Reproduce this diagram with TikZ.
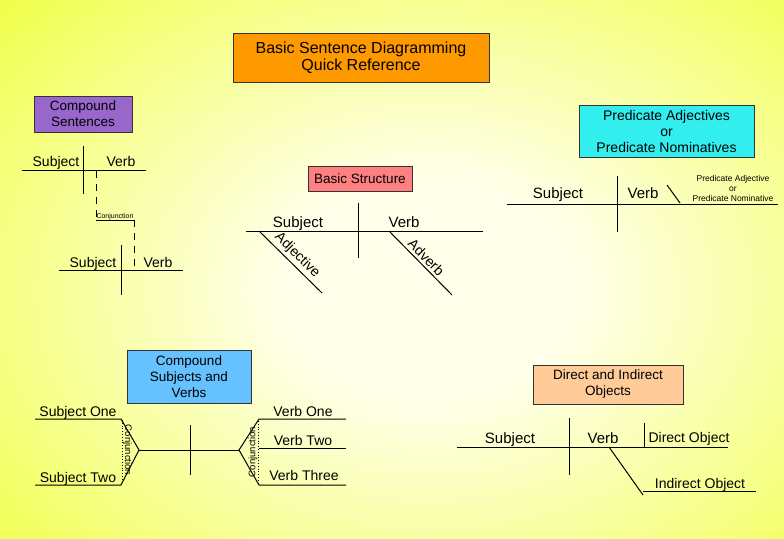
\documentclass[tikz,border=0pt]{standalone}
\usepackage{fontspec}
\setmainfont{Liberation Sans}
\usepackage{xcolor}
\usetikzlibrary{backgrounds}

\definecolor{bgedge}{RGB}{234,255,10}
\definecolor{bgcentre}{RGB}{255,255,234}
\definecolor{titleorange}{RGB}{255,153,0}
\definecolor{boxpurple}{RGB}{153,102,204}
\definecolor{boxred}{RGB}{255,128,128}
\definecolor{boxcyan}{RGB}{51,238,238}
\definecolor{boxblue}{RGB}{102,194,255}
\definecolor{boxpeach}{RGB}{255,204,153}

\pgfdeclareradialshading{sheet}{\pgfpointorigin}{color(0bp)=(bgcentre); color(8bp)=(bgcentre); color(41bp)=(bgedge); color(75bp)=(bgedge)}

\begin{document}
\begin{tikzpicture}[x=1pt,y=-1pt]
		\tikzstyle{head_box}=[draw=black!80, line width=0.8pt, align=center, inner sep=0pt, font=\fontsize{13.5}{16}\selectfont]
		\tikzstyle{word}=[inner sep=0pt, anchor=base, font=\fontsize{14}{16}\selectfont]
		\tikzstyle{word_big}=[word, font=\fontsize{15}{17}\selectfont]
		\tikzstyle{word_tiny}=[inner sep=0pt, align=center, font=\fontsize{8.5}{10}\selectfont]
		\tikzstyle{slope_word}=[sloped, above, inner sep=2.5pt, font=\fontsize{14}{16}\selectfont]
		\tikzstyle{rule}=[line width=1pt]
		\tikzstyle{dash_rule}=[rule, dash pattern=on 7pt off 6pt]
		\tikzstyle{dot_rule}=[line width=0.8pt, dotted]

	\useasboundingbox (0,0) rectangle (784,538);
	\begin{scope}[on background layer]
		\clip (0,0) rectangle (784,538);
		\shade[shading=sheet] (-30,-50) rectangle (890,630);
	\end{scope}

	% title
	\node [head_box, fill=titleorange, minimum width=256, minimum height=49, font=\fontsize{16}{17}\selectfont] (title) at (361,57.5) {Basic Sentence Diagramming\\Quick Reference};

		% compound sentences
		\begin{scope}
			\node [head_box, fill=boxpurple, minimum width=98, minimum height=36] (cs_head) at (83,114) {Compound\\Sentences};

			\coordinate (cs1_l) at (22,170);
			\coordinate (cs1_r) at (146,170);
			\coordinate (cs1_t) at (83,146);
			\coordinate (cs1_b) at (83,194);
			\draw [rule] (cs1_l) -- (cs1_r);
			\draw [rule] (cs1_t) -- (cs1_b);
			\node [word] (cs1_subj) at (56,166) {Subject};
			\node [word] (cs1_verb) at (121,166) {Verb};

			\coordinate (conj_a) at (96,171);
			\coordinate (conj_b) at (96,220);
			\coordinate (conj_c) at (134,220);
			\coordinate (conj_d) at (134,268);
			\draw [dash_rule] (conj_a) -- (conj_b);
			\draw [line width=0.8pt] (conj_b) -- (conj_c);
			\draw [dash_rule] (conj_c) -- (conj_d);
			\node [word, font=\fontsize{7}{8}\selectfont] (cs_conj) at (115,218) {Conjunction};

			\coordinate (cs2_l) at (59,270);
			\coordinate (cs2_r) at (183,270);
			\coordinate (cs2_t) at (121,245);
			\coordinate (cs2_b) at (121,295);
			\draw [rule] (cs2_l) -- (cs2_r);
			\draw [rule] (cs2_t) -- (cs2_b);
			\node [word] (cs2_subj) at (93,267) {Subject};
			\node [word] (cs2_verb) at (158,267) {Verb};
		\end{scope}

		% basic structure
		\begin{scope}
			\node [head_box, fill=boxred, minimum width=104, minimum height=25] (bs_head) at (360,178.5) {Basic Structure};

			\coordinate (bs_l) at (246,231);
			\coordinate (bs_r) at (483,231);
			\coordinate (bs_t) at (358,203);
			\coordinate (bs_b) at (358,258);
			\draw [rule] (bs_l) -- (bs_r);
			\draw [rule] (bs_t) -- (bs_b);
			\node [word_big] (bs_subj) at (298,227) {Subject};
			\node [word_big] (bs_verb) at (404,227) {Verb};

			\coordinate (adj_a) at (259,231);
			\coordinate (adj_b) at (322,293);
			\coordinate (adv_a) at (389,231);
			\coordinate (adv_b) at (452,295);
			\draw [rule] (adj_a) -- node [slope_word] (bs_adj) {Adjective} (adj_b);
			\draw [rule] (adv_a) -- node [slope_word] (bs_adv) {Adverb} (adv_b);
		\end{scope}

		% predicate adjectives / nominatives
		\begin{scope}
			\node [head_box, fill=boxcyan, minimum width=175, minimum height=52, font=\fontsize{14}{16}\selectfont] (pn_head) at (666.5,131) {Predicate Adjectives\\or\\Predicate Nominatives};

			\coordinate (pn_l) at (507,204);
			\coordinate (pn_r) at (778,204);
			\coordinate (pn_t) at (617,176);
			\coordinate (pn_b) at (617,232);
			\draw [rule] (pn_l) -- (pn_r);
			\draw [rule] (pn_t) -- (pn_b);
			\node [word_big] (pn_subj) at (558,198) {Subject};
			\node [word_big] (pn_verb) at (643,198) {Verb};

			\coordinate (pn_sa) at (667,185);
			\coordinate (pn_sb) at (680,203);
			\draw [rule] (pn_sa) -- (pn_sb);
			\node [word_tiny] (pn_comp) at (733,188) {Predicate Adjective\\or\\Predicate Nominative};
		\end{scope}

		% compound subjects and verbs
		\begin{scope}
			\node [head_box, fill=boxblue, minimum width=124, minimum height=53] (csv_head) at (189,376.5) {Compound\\Subjects and\\Verbs};

			\coordinate (s1_l) at (35,419);
			\coordinate (s1_r) at (121,419);
			\coordinate (s2_l) at (35,485);
			\coordinate (s2_r) at (121,485);
			\coordinate (fork_l) at (139,450);
			\coordinate (fork_r) at (239,450);
			\draw [rule] (s1_l) -- (s1_r) -- (fork_l) -- (s2_r) -- (s2_l);
			\draw [rule] (fork_l) -- (fork_r);
			\coordinate (csv_t) at (190,425);
			\coordinate (csv_b) at (190,475);
			\draw [rule] (csv_t) -- (csv_b);

			\coordinate (v1_l) at (259,419);
			\coordinate (v1_r) at (346,419);
			\coordinate (v2_l) at (259,448);
			\coordinate (v2_r) at (346,448);
			\coordinate (v3_l) at (259,485);
			\coordinate (v3_r) at (346,485);
			\draw [rule] (v1_r) -- (v1_l) -- (fork_r) -- (v3_l) -- (v3_r);
			\draw [rule] (v2_l) -- (v2_r);

			\coordinate (sdot_t) at (122.5,420);
			\coordinate (sdot_b) at (122.5,482);
			\coordinate (vdot_t) at (258,421);
			\coordinate (vdot_b) at (258,483);
			\draw [dot_rule] (sdot_t) -- (sdot_b);
			\draw [dot_rule] (vdot_t) -- (vdot_b);
			\node [rotate=-90, inner sep=0pt, font=\fontsize{9.5}{11}\selectfont] (s_conj) at (127.5,450) {Conjunction};
			\node [rotate=90, inner sep=0pt, font=\fontsize{9.5}{11}\selectfont] (v_conj) at (253,452) {Conjunction};

			\node [word] (s1_text) at (78,416) {Subject One};
			\node [word] (s2_text) at (78,482) {Subject Two};
			\node [word] (v1_text) at (303,416) {Verb One};
			\node [word] (v2_text) at (303,445) {Verb Two};
			\node [word] (v3_text) at (304,480) {Verb Three};
		\end{scope}

		% direct and indirect objects
		\begin{scope}
			\node [head_box, fill=boxpeach, minimum width=150, minimum height=39] (do_head) at (608,384.5) {Direct and Indirect\\Objects};

			\coordinate (do_l) at (457,447);
			\coordinate (do_r) at (728,447);
			\coordinate (do_t) at (569,418);
			\coordinate (do_b) at (569,475);
			\draw [rule] (do_l) -- (do_r);
			\draw [rule] (do_t) -- (do_b);
			\coordinate (obj_t) at (644,423);
			\coordinate (obj_b) at (644,447);
			\draw [rule] (obj_t) -- (obj_b);
			\node [word_big] (do_subj) at (510,443) {Subject};
			\node [word_big] (do_verb) at (603,443) {Verb};
			\node [word] (do_obj) at (689,442) {Direct Object};

			\coordinate (io_a) at (609,447);
			\coordinate (io_b) at (643,495);
			\coordinate (io_l) at (643,491);
			\coordinate (io_r) at (756,491);
			\draw [rule] (io_a) -- (io_b);
			\draw [rule] (io_l) -- (io_r);
			\node [word] (io_text) at (700,488) {Indirect Object};
		\end{scope}

	\end{tikzpicture}
\end{document}
